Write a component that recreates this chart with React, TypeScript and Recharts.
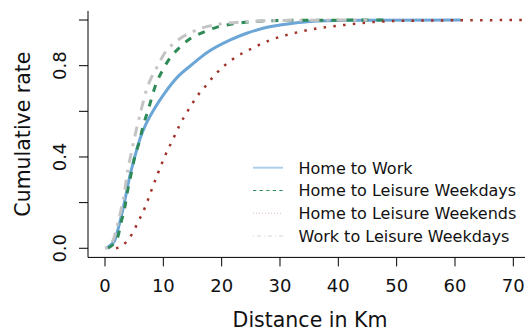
import React from "react";
import { LineChart, Line, XAxis, YAxis, Customized } from "recharts";

// Empirical cumulative distributions of trip distance (km)
const homeWorkKm = [0.2, 1.0, 1.7, 2.5, 3.4, 4.2, 5.1, 6.0, 7.1, 8.5, 10.2, 12.5, 14.8, 17.7, 21.4, 24.3, 27.1, 30.0, 32.9, 35.7, 40, 45, 61];
const homeWorkRate = [0, 0.015, 0.036, 0.11, 0.21, 0.31, 0.4, 0.48, 0.548, 0.613, 0.679, 0.752, 0.803, 0.861, 0.912, 0.942, 0.964, 0.978, 0.988, 0.995, 0.998, 0.999, 1.0];

const leisureWeekdayKm = [0.5, 1.5, 2.2, 2.8, 3.4, 3.9, 4.5, 5.1, 5.8, 6.5, 7.4, 8.8, 9.9, 11.1, 12.8, 14.5, 16.7, 19.1, 21.7, 24.9, 28.3, 35, 48];
const leisureWeekdayRate = [0, 0.02, 0.05, 0.117, 0.18, 0.255, 0.328, 0.4, 0.46, 0.533, 0.606, 0.723, 0.781, 0.832, 0.88, 0.917, 0.945, 0.968, 0.982, 0.992, 0.997, 0.999, 1.0];

const leisureWeekendKm = [1.9, 3.0, 3.9, 4.8, 5.7, 6.8, 7.9, 9.1, 10.2, 11.7, 12.8, 14.5, 15.9, 16.9, 19.1, 21.7, 24.9, 28.3, 32.3, 36.6, 40.9, 45.4, 52, 73];
const leisureWeekendRate = [0, 0.012, 0.036, 0.07, 0.117, 0.175, 0.25, 0.33, 0.4, 0.48, 0.54, 0.615, 0.67, 0.7, 0.767, 0.825, 0.872, 0.912, 0.942, 0.964, 0.978, 0.99, 0.997, 1.0];

const workLeisureKm = [0, 0.8, 1.4, 2.2, 2.8, 3.4, 3.9, 4.5, 5.3, 6.2, 7.1, 7.9, 8.8, 10.2, 12.5, 15.4, 17.4, 18.6, 22.9, 27, 33, 45];
const workLeisureRate = [0, 0.01, 0.036, 0.11, 0.175, 0.255, 0.343, 0.416, 0.511, 0.606, 0.693, 0.745, 0.788, 0.854, 0.912, 0.953, 0.971, 0.978, 0.99, 0.996, 0.999, 1.0];

const seriesNames = [
  "Home to Work",
  "Home to Leisure Weekdays",
  "Home to Leisure Weekends",
  "Work to Leisure Weekdays",
];

const xTicks = [0, 10, 20, 30, 40, 50, 60, 70];
const yTicks = [0, 0.2, 0.4, 0.6, 0.8, 1.0];
const yLabelled = [0, 0.4, 0.8];

const toPoints = (km: number[], rate: number[]) => km.map((x, i) => ({ x, y: rate[i] }));

const FONT = "'DejaVu Sans', sans-serif";

const XTick = (props: any) => {
  const { x, payload } = props;
  return (
    <text x={x} y={291.5} textAnchor="middle" fontFamily={FONT} fontSize={18} fill="#111">
      {payload.value}
    </text>
  );
};

const YTick = (props: any) => {
  const { y, payload } = props;
  if (!yLabelled.includes(payload.value)) return <g />;
  const bx = 66.5;
  return (
    <text
      x={bx}
      y={y}
      transform={`rotate(-90, ${bx}, ${y})`}
      textAnchor="middle"
      fontFamily={FONT}
      fontSize={18}
      fill="#111"
    >
      {payload.value.toFixed(1)}
    </text>
  );
};

const legendRows = [
  { stroke: "#acd0ec", width: 2, dash: undefined as string | undefined },
  { stroke: "#2e8b57", width: 1, dash: "3.3 3.3" },
  { stroke: "#e6bcb6", width: 1, dash: "1 2" },
  { stroke: "#d6d6d6", width: 1, dash: "1 3 4 3" },
];

const Annotations = () => (
  <g>
    <text x={310} y={326.7} textAnchor="middle" fontFamily={FONT} fontSize={20.5} fill="#111">
      Distance in Km
    </text>
    <text
      x={30}
      y={134.1}
      transform="rotate(-90, 30, 134.1)"
      textAnchor="middle"
      fontFamily={FONT}
      fontSize={20.5}
      fill="#111"
    >
      Cumulative rate
    </text>
    {seriesNames.map((name, i) => {
      const cy = 167.7 + i * 22.8;
      const r = legendRows[i];
      return (
        <g key={name}>
          <line x1={253} x2={283} y1={cy} y2={cy} stroke={r.stroke} strokeWidth={r.width} strokeDasharray={r.dash} />
          <text x={298.5} y={cy + 5.8} fontFamily={FONT} fontSize={16} fill="#111">
            {name}
          </text>
        </g>
      );
    })}
  </g>
);

export default function App() {
  return (
    <div style={{ position: "absolute", left: 0, top: 0, width: 525, height: 333, background: "#fff" }}>
      <LineChart width={525} height={333} margin={{ top: 10.9, right: -5, bottom: 0, left: 0 }}>
        <XAxis
          xAxisId="bottom"
          type="number"
          dataKey="x"
          domain={[-2.914, 72.86]}
          allowDataOverflow
          ticks={xTicks}
          height={75.6}
          tickSize={9}
          tick={XTick}
          stroke="#000"
          axisLine={{ stroke: "#000", strokeWidth: 1 }}
          tickLine={{ stroke: "#000", strokeWidth: 1 }}
        />
        <XAxis
          xAxisId="top"
          orientation="top"
          type="number"
          dataKey="x"
          domain={[-2.914, 72.86]}
          allowDataOverflow
          height={0}
          tick={false}
          tickLine={false}
          axisLine={{ stroke: "#000", strokeWidth: 1 }}
        />
        <YAxis
          type="number"
          dataKey="y"
          domain={[-0.04, 1.04]}
          allowDataOverflow
          ticks={yTicks}
          width={88}
          tickSize={9}
          tick={YTick}
          axisLine={{ stroke: "#000", strokeWidth: 1 }}
          tickLine={{ stroke: "#000", strokeWidth: 1 }}
        />
        <Line
          xAxisId="bottom"
          data={toPoints(homeWorkKm, homeWorkRate)}
          dataKey="y"
          type="monotone"
          stroke="#6ba6d6"
          strokeWidth={3}
          dot={false}
          isAnimationActive={false}
        />
        <Line
          xAxisId="bottom"
          data={toPoints(leisureWeekdayKm, leisureWeekdayRate)}
          dataKey="y"
          type="monotone"
          stroke="#2e8b57"
          strokeWidth={3}
          strokeDasharray="7 8"
          dot={false}
          isAnimationActive={false}
        />
        <Line
          xAxisId="bottom"
          data={toPoints(leisureWeekendKm, leisureWeekendRate)}
          dataKey="y"
          type="monotone"
          stroke="#a0322a"
          strokeWidth={2.5}
          strokeDasharray="2.5 7.3"
          dot={false}
          isAnimationActive={false}
        />
        <Line
          xAxisId="bottom"
          data={toPoints(workLeisureKm, workLeisureRate)}
          dataKey="y"
          type="monotone"
          stroke="#c4c4c4"
          strokeWidth={3}
          strokeDasharray="3 7 10 7"
          dot={false}
          isAnimationActive={false}
        />
        <Customized component={Annotations} />
      </LineChart>
    </div>
  );
}
